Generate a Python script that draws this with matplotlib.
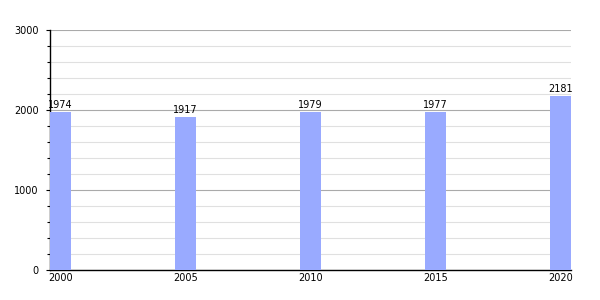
import numpy as np
import matplotlib.pyplot as plt

years = [2000, 2005, 2010, 2015, 2020]
population = [1974, 1917, 1979, 1977, 2181]

fig = plt.figure(figsize=(6, 3), dpi=100)
ax = fig.add_axes([50 / 600, 0.1, 521 / 600, 0.8])

bar_w = 0.84
ax.bar(years, population, width=bar_w, color='#99aaff', zorder=3)
for x, v in zip(years, population):
    ax.text(x, v + 25, str(v), ha='center', va='bottom', fontsize=7, zorder=4)

ax.set_xlim(years[0] - bar_w / 2, years[-1] + bar_w / 2)
ax.set_ylim(0, 3000)
ax.set_xticks(years)
ax.set_yticks([0, 1000, 2000, 3000])
ax.set_yticks(np.arange(0, 3001, 200), minor=True)
ax.tick_params(axis='both', labelsize=7, length=3, width=0.8, pad=2)
ax.tick_params(axis='y', pad=5)
ax.tick_params(axis='x', length=0)
ax.tick_params(axis='y', which='minor', length=2, width=0.8)

ax.grid(axis='y', which='major', color='#aaaaaa', linewidth=0.8, zorder=0)
ax.grid(axis='y', which='minor', color='#e0e0e0', linewidth=0.8, zorder=0)
for s in ['top', 'right']:
    ax.spines[s].set_visible(False)
ax.spines['left'].set_linewidth(1)
ax.spines['bottom'].set_linewidth(1)

fig.savefig('out.png', dpi=100)
